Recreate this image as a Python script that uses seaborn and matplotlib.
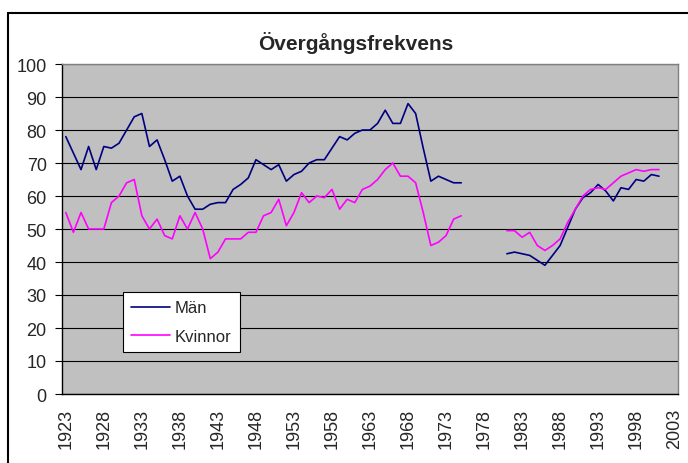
import numpy as np
import pandas as pd
import matplotlib
matplotlib.use("Agg")
import matplotlib.pyplot as plt
from matplotlib.lines import Line2D
import seaborn as sns

sns.set_style("white")
plt.rcParams["font.family"] = ["Liberation Sans", "DejaVu Sans"]

# Data
years_1 = list(range(1923, 1976))
years_2 = list(range(1981, 2002))
man_1 = [78, 73, 68, 75, 68, 75, 74.5, 76, 80, 84,
         85, 75, 77, 71, 64.5, 66, 60, 56, 56, 57.5,
         58, 58, 62, 63.5, 65.5, 71, 69.5, 68, 69.5, 64.5,
         66.5, 67.5, 70, 71, 71, 74.5, 78, 77, 79, 80,
         80, 82, 86, 82, 82, 88, 85, 74.5, 64.5, 66,
         65, 64, 64]
man_2 = [42.5, 43, 42.5, 42, 40.5, 39, 42, 45, 50.5, 56,
         59.5, 61, 63.5, 61.5, 58.5, 62.5, 62, 65, 64.5, 66.5, 66]
kvinnor_1 = [55, 49, 55, 50, 50, 50, 58, 60, 64, 65,
             54, 50, 53, 48, 47, 54, 50, 55, 50, 41,
             43, 47, 47, 47, 49, 49, 54, 55, 59, 51,
             55, 61, 58, 60, 59.5, 62, 56, 59, 58, 62,
             63, 65, 68, 70, 66, 66, 64, 55, 45, 46,
             48, 53, 54]
kvinnor_2 = [49.5, 49.5, 47.5, 49, 45, 43.5, 45, 47, 52, 56,
             60, 62, 62.5, 62, 64, 66, 67, 68, 67.5, 68, 68]
series_names = ["Män", "Kvinnor"]
colors = {"Män": "#000080", "Kvinnor": "#FF00FF"}
label_years = list(range(1923, 2004, 5))

rows = []
for name, segs in [("Män", [(years_1, man_1), (years_2, man_2)]),
                   ("Kvinnor", [(years_1, kvinnor_1), (years_2, kvinnor_2)])]:
    for k, (yrs, vals) in enumerate(segs):
        for y, v in zip(yrs, vals):
            rows.append({"year": y, "value": v, "serie": name, "seg": k})
df = pd.DataFrame(rows)

fig = plt.figure(figsize=(6.88, 4.64), dpi=100)
ax = fig.add_axes([62/688, 1 - 395/464, 616/688, 330/464])
ax.set_facecolor("#C0C0C0")

sns.lineplot(data=df, x="year", y="value", hue="serie", units="seg",
             estimator=None, palette=colors, hue_order=series_names,
             linewidth=1.2, legend=False, ax=ax)

ax.set_xlim(1922.5, 2003.5)
ax.set_ylim(0, 100)
ax.set_yticks(range(0, 101, 10))
ax.yaxis.grid(True, color="black", linewidth=0.8)
ax.set_axisbelow(True)
ax.set_xticks(label_years)
ax.set_xticklabels([str(y) for y in label_years], rotation=90, fontsize=13)
ax.set_xticks(np.arange(1922.5, 2004, 1), minor=True)
ax.tick_params(axis="x", which="major", length=0, pad=10)
ax.tick_params(axis="x", which="minor", length=4, width=0.8, color="black", direction="out")
ax.tick_params(axis="y", length=5, width=0.8, color="black", direction="out",
               labelsize=13, pad=6, left=True)
ax.set_xlabel("")
ax.set_ylabel("")
for s in ["left", "bottom"]:
    ax.spines[s].set_color("black")
    ax.spines[s].set_linewidth(1)
for s in ["top", "right"]:
    ax.spines[s].set_color("#808080")
    ax.spines[s].set_linewidth(1)

handles = [Line2D([], [], color=colors[n], lw=1.2) for n in series_names]
leg = ax.legend(handles, series_names, loc="lower left",
                bbox_to_anchor=(0.099, 0.127), borderaxespad=0,
                fontsize=12, frameon=True, fancybox=False, framealpha=1,
                edgecolor="black", handlelength=2.3, labelspacing=0.8,
                borderpad=0.5, handletextpad=0.3)
leg.get_frame().set_linewidth(0.8)

fig.text(356/688, 1 - 43/464, "Övergångsfrekvens", ha="center", va="center",
         fontsize=15, fontweight="bold")

# chart-area frame (left and top edges visible in the crop)
fig.add_artist(Line2D([8/688, 8/688], [0, 1 - 14/464], color="black", lw=1.5,
                      transform=fig.transFigure))
fig.add_artist(Line2D([8/688, 1], [1 - 14/464, 1 - 14/464], color="black", lw=1.5,
                      transform=fig.transFigure))

fig.savefig("out.png", dpi=100)
